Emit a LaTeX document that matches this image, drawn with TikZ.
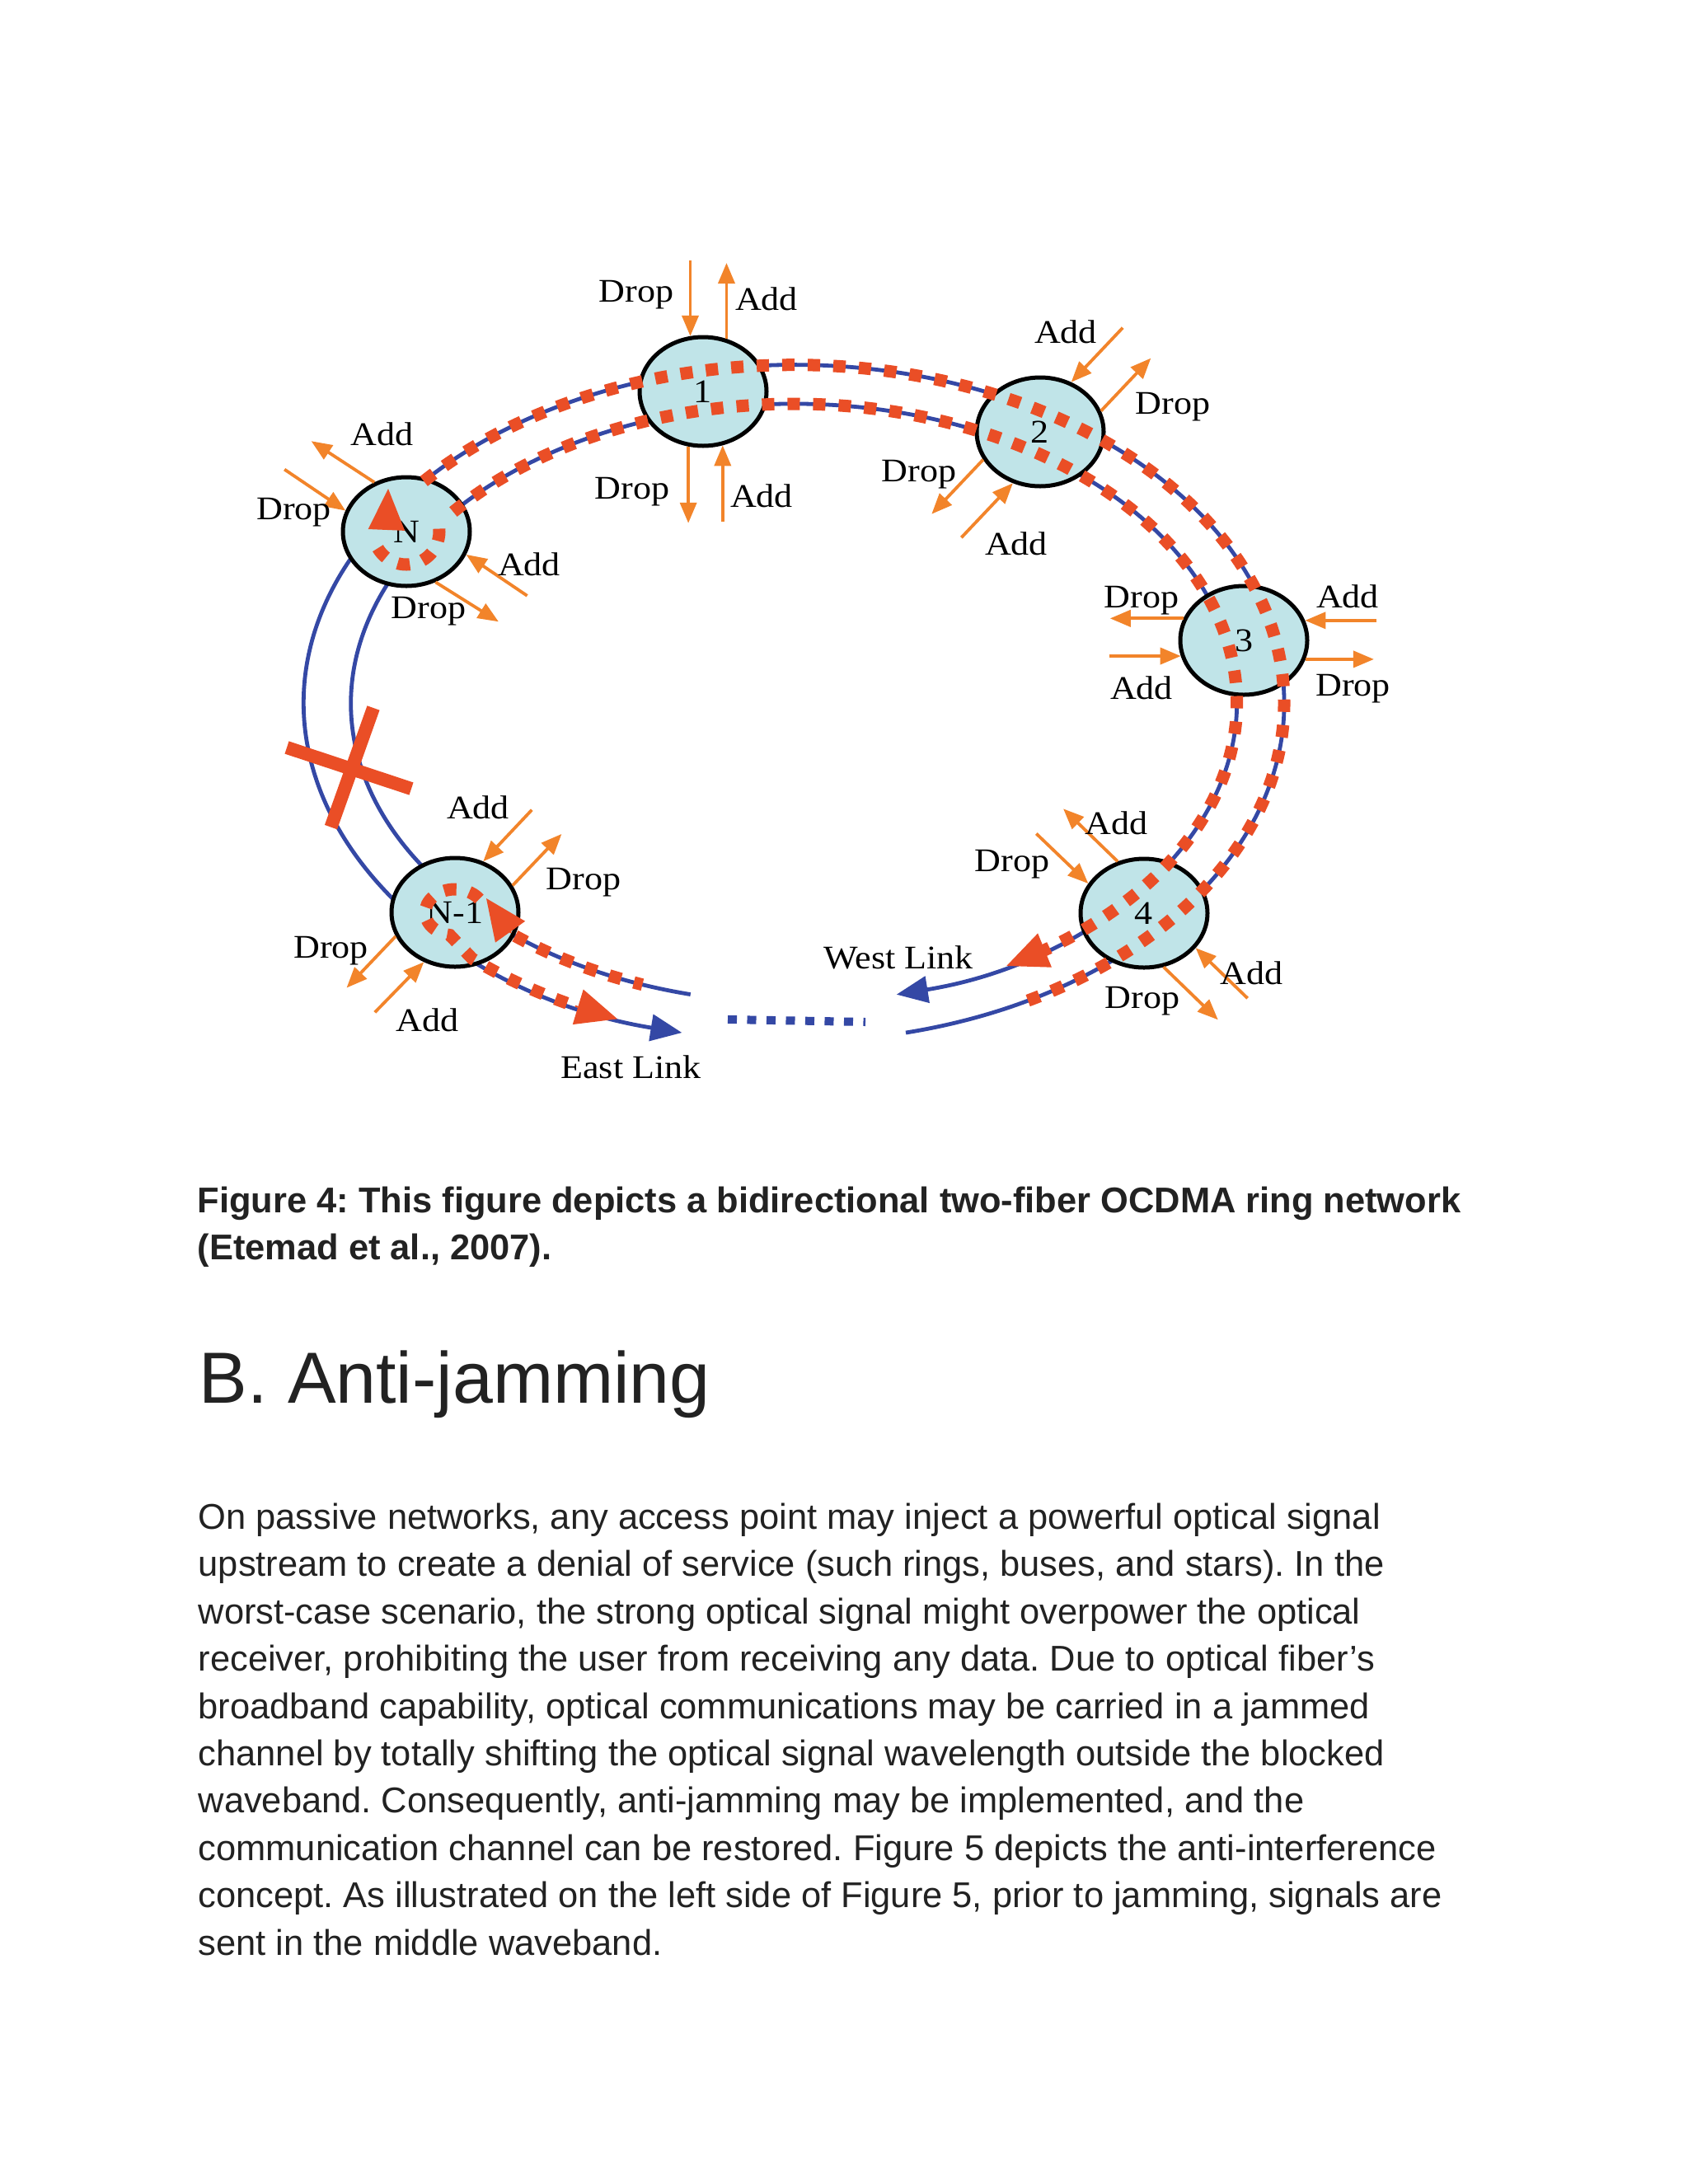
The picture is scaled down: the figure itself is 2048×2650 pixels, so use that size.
\documentclass[tikz,border=0pt]{standalone}
\usepackage{fontspec}
\setmainfont{Liberation Sans}
\newfontfamily\labfont[FakeStretch=1.1]{Liberation Serif}
\usetikzlibrary{arrows.meta, shapes.geometric, calc}
\frenchspacing

\definecolor{RingBlue}{RGB}{52, 72, 165}
\definecolor{SignalRed}{RGB}{234, 78, 38}
\definecolor{PortOrange}{RGB}{242, 132, 42}
\definecolor{NodeCyan}{RGB}{192, 228, 232}
\definecolor{TextGrey}{RGB}{34, 34, 34}

\tikzset{
    fibre/.style={draw=RingBlue, line width=0.48mm},
    signal/.style={draw=SignalRed, line width=1.5mm, dash pattern=on 1.5mm off 1.6mm},
    oadm/.style={ellipse, draw=black, line width=0.5mm, fill=NodeCyan,
        minimum width=15.4mm, minimum height=13.2mm, inner sep=0pt,
        font=\labfont\fontsize{11.4}{13}\selectfont},
    port/.style={draw=PortOrange, line width=0.38mm, -{Triangle[length=2.5mm, width=2mm]}},
    plabel/.style={inner sep=0pt, font=\labfont\fontsize{11.4}{13}\selectfont},
    bigtip/.style={draw=SignalRed, fill=SignalRed, line width=0.2mm, -{Triangle[length=5mm, width=4.4mm]}},
    linktip/.style={-{Triangle[length=3.8mm, width=3.2mm]}},
    captxt/.style={anchor=base west, inner sep=0pt, text=TextGrey, font=\bfseries\fontsize{12.36}{16}\selectfont},
    bodytxt/.style={anchor=base west, inner sep=0pt, text=TextGrey, font=\fontsize{12.36}{16.3}\selectfont}
}

\begin{document}
\begin{tikzpicture}[x=0.1mm, y=0.1mm]
\fill[white] (0,0) rectangle (2048,-2650);
\coordinate (C) at (963.2,-853.3);

% Ring fibres (outer and inner)
\draw[fibre, linktip] ([shift={(-76.8:594.8 and 410.6)}]C)
    arc[start angle=-76.8, end angle=256.8, x radius=594.8, y radius=410.6];
\draw[fibre, linktip] ([shift={(256.5:537.4 and 363.3)}]C)
    arc[start angle=256.5, end angle=-76.6, x radius=537.4, y radius=363.3];
% Gap in the ring
\draw[RingBlue, line width=1mm, dash pattern=on 1.1mm off 1.25mm] (883,-1237) -- (1050,-1240);

% Fibre cut
\draw[SignalRed, line width=1.6mm] (348,-907) -- (499,-957);
\draw[SignalRed, line width=1.6mm] (453,-859) -- (401.5,-1003.6);

% Nodes
\node[oadm] (n1) at (853,-475) {1};
\node[oadm] (n2) at (1262,-524) {2};
\node[oadm] (n3) at (1509,-777) {3};
\node[oadm] (n4) at (1388,-1108) {4};
\node[oadm] (nm1) at (552,-1107) {N-1};
\node[oadm] (nN) at (493,-645) {N};

% Signal paths
\draw[signal] ([shift={(139:594.8 and 410.6)}]C)
    arc[start angle=139, end angle=-63, x radius=594.8, y radius=410.6];
\draw[signal] ([shift={(-56.5:537.4 and 363.3)}]C)
    arc[start angle=-56.5, end angle=141, x radius=537.4, y radius=363.3];
\draw[bigtip] ([shift={(-56.5:537.4 and 363.3)}]C) -- ([shift={(-61.3:537.4 and 363.3)}]C);
% loop-back at N
\draw[signal] ([shift={(5:40)}]nN) arc[start angle=5, end angle=-160, radius=40];
\draw[bigtip] ($(nN)+(-24,4)$) -- ($(nN)+(-22,52)$);
% loop-back at N-1
\draw[signal] ([shift={(35:36 and 28)}]nm1)
    arc[start angle=35, end angle=260, x radius=36, y radius=28]
    -- ([shift={(229:594.8 and 410.6)}]C)
    arc[start angle=229, end angle=243.5, x radius=594.8, y radius=410.6];
\draw[bigtip] ([shift={(243.5:594.8 and 410.6)}]C) -- ([shift={(248.9:594.8 and 410.6)}]C);
\draw[signal] ([shift={(231:537.4 and 363.3)}]C)
    arc[start angle=231, end angle=250, x radius=537.4, y radius=363.3];
\draw[bigtip] ($(nm1)+(68,-25)$) -- ($(nm1)+(38,17)$);

% Add/drop ports of node 1
\draw[port] (n1.103) ++(0,92) -- (n1.103);
\draw[port] (n1.66) -- ++(0,92);
\draw[port] (n1.255) -- ++(0,-93);
\draw[port] (n1.290) ++(0,-93) -- (n1.290);
\node[plabel] (n1d) at (772,-358) {Drop};
\node[plabel] (n1a) at (930,-363) {Add};
\node[plabel] (n1dd) at (767,-597) {Drop};
\node[plabel] (n1aa) at (924,-602) {Add};

% Add/drop ports of node 2
\draw[port] (n2.58) ++(62.5,66) -- (n2.58);
\draw[port] (n2.19) -- ++(60.5,64);
\draw[port] (n2.206) -- ++(-62.5,-66);
\draw[port] (n2.242) ++(-62.5,-66) -- (n2.242);
\node[plabel] (n2a) at (1293,-402.5) {Add};
\node[plabel] (n2d) at (1423,-494) {Drop};
\node[plabel] (n2dd) at (1115,-576) {Drop};
\node[plabel] (n2aa) at (1233,-660) {Add};

% Add/drop ports of node 3
\draw[port] (n3.160) -- ++(-89,0);
\draw[port] (n3.194) ++(-87,0) -- (n3.194);
\draw[port] (n3.18) ++(87,0) -- (n3.18);
\draw[port] (n3.343) -- ++(83,0);
\node[plabel] (n3d) at (1385,-729) {Drop};
\node[plabel] (n3a) at (1385,-835) {Add};
\node[plabel] (n3aa) at (1635,-724) {Add};
\node[plabel] (n3dd) at (1641.5,-836) {Drop};

% Add/drop ports of node 4
\draw[port] (n4.117) -- ++(-66,64);
\draw[port] (n4.152) ++(-63,60.5) -- (n4.152);
\draw[port] (n4.326) ++(63,-61) -- (n4.326);
\draw[port] (n4.290) -- ++(66,-64);
\node[plabel] (n4a) at (1354.6,-998.4) {Add};
\node[plabel] (n4d) at (1228,-1049) {Drop};
\node[plabel] (n4aa) at (1518.4,-1180.3) {Add};
\node[plabel] (n4dd) at (1386.2,-1214.8) {Drop};

% Add/drop ports of node N-1
\draw[port] (nm1.61) ++(59,62.5) -- (nm1.61);
\draw[port] (nm1.25) -- ++(59.5,62.5);
\draw[port] (nm1.202) -- ++(-59.5,-62.5);
\draw[port] (nm1.238) ++(-59.5,-61) -- (nm1.238);
\node[plabel] (nm1a) at (580,-980) {Add};
\node[plabel] (nm1d) at (708,-1071) {Drop};
\node[plabel] (nm1dd) at (401.5,-1153.6) {Drop};
\node[plabel] (nm1aa) at (518.4,-1237.5) {Add};

% Add/drop ports of node N
\draw[port] (nN.123) -- ++(-76.5,50);
\draw[port] (nN.161) ++(-74,50) -- (nN.161);
\draw[port] (nN.339) ++(74,-50) -- (nN.339);
\draw[port] (nN.300) -- ++(76.5,-48);
\node[plabel] (nNa) at (463.7,-526.7) {Add};
\node[plabel] (nNd) at (356.5,-621.7) {Drop};
\node[plabel] (nNaa) at (642,-685) {Add};
\node[plabel] (nNdd) at (520,-741.7) {Drop};

% Link labels
\node[plabel] (east) at (765.5,-1294.6) {East Link};
\node[plabel] (west) at (1090,-1162) {West Link};

% Caption and text
\node[captxt] (cap1) at (239,-1471) {Figure 4: This figure depicts a bidirectional two-fiber OCDMA ring network};
\node[captxt] (cap2) at (239,-1528) {(Etemad et al., 2007).};
\node[anchor=base west, inner sep=0pt, text=TextGrey, font=\fontsize{25}{30}\selectfont] (head) at (241,-1702) {B. Anti-jamming};
\foreach \txt [count=\i from 0] in {
    {On passive networks, any access point may inject a powerful optical signal},
    {upstream to create a denial of service (such rings, buses, and stars). In the},
    {worst-case scenario, the strong optical signal might overpower the optical},
    {receiver, prohibiting the user from receiving any data. Due to optical fiber’s},
    {broadband capability, optical communications may be carried in a jammed},
    {channel by totally shifting the optical signal wavelength outside the blocked},
    {waveband. Consequently, anti-jamming may be implemented, and the},
    {communication channel can be restored. Figure 5 depicts the anti-interference},
    {concept. As illustrated on the left side of Figure 5, prior to jamming, signals are},
    {sent in the middle waveband.}}
    \node[bodytxt] (para\i) at (240,-1855.5-57.4*\i) {\txt};
\end{tikzpicture}
\end{document}
